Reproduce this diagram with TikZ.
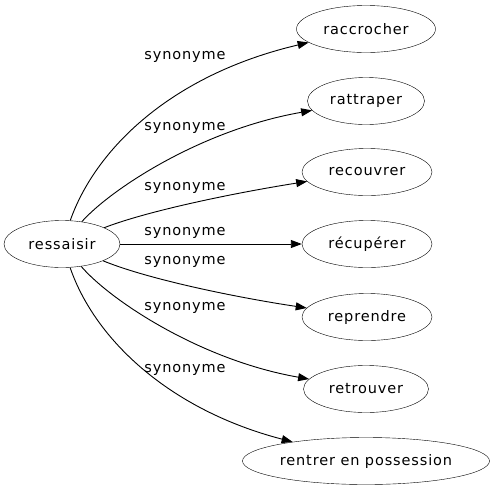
\documentclass[tikz,border=0pt]{standalone}
\usepackage{fontspec}
\newfontfamily\graphfont{DejaVu Sans}[LetterSpace=6]
\usetikzlibrary{arrows.meta,shapes.geometric}

\tikzset{
  word/.style={draw, ellipse, minimum height=47pt, inner sep=0pt,
    font=\graphfont\fontsize{14.5}{17}\selectfont},
  syn/.style={-{Triangle[length=11pt,width=8pt]}, line width=0.9pt},
  synlabel/.style={inner sep=0pt, font=\graphfont\fontsize{14.5}{17}\selectfont}
}

\begin{document}
\begin{tikzpicture}[x=1pt,y=-1pt]
\useasboundingbox (0,0) rectangle (495,491);

\node[word, minimum width=116pt] (ressaisir) at (62,244) {ressaisir};

\node[word, minimum width=139pt] (raccrocher) at (366,29) {raccrocher};
\node[word, minimum width=117pt] (rattraper) at (366,101) {rattraper};
\node[word, minimum width=130pt] (recouvrer) at (367,172) {recouvrer};
\node[word, minimum width=130pt] (recuperer) at (367,244) {récupérer};
\node[word, minimum width=130pt] (reprendre) at (367,317) {reprendre};
\node[word, minimum width=125pt] (retrouver) at (366,389) {retrouver};
\node[word, minimum width=247pt] (rentrer) at (366,461) {rentrer en possession};

% edges
\draw[syn] (ressaisir) .. controls (95,150) and (170,75) .. (raccrocher);
\draw[syn] (ressaisir) .. controls (110,190) and (200,130) .. (rattraper);
\draw[syn] (ressaisir) .. controls (150,210) and (240,192) .. (recouvrer);
\draw[syn] (ressaisir) -- (recuperer);
\draw[syn] (ressaisir) .. controls (150,280) and (240,298) .. (reprendre);
\draw[syn] (ressaisir) .. controls (110,300) and (200,360) .. (retrouver);
\draw[syn] (ressaisir) .. controls (95,340) and (170,410) .. (rentrer);

% labels
\node[synlabel] (l1) at (185,57) {synonyme};
\node[synlabel] (l2) at (185,128) {synonyme};
\node[synlabel] (l3) at (185,188) {synonyme};
\node[synlabel] (l4) at (185,233) {synonyme};
\node[synlabel] (l5) at (185,262) {synonyme};
\node[synlabel] (l6) at (185,308) {synonyme};
\node[synlabel] (l7) at (185,370) {synonyme};
\end{tikzpicture}
\end{document}
